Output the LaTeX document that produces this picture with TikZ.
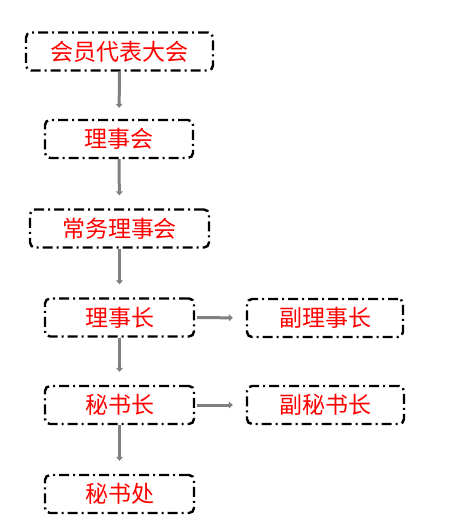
\documentclass[tikz,border=0pt]{standalone}
\usepackage{fontspec}
\newfontfamily\cjk{Noto Sans CJK SC}
\usetikzlibrary{arrows.meta}
\definecolor{arrowgray}{RGB}{128,128,128}
\tikzset{
  box/.style={draw=black, line width=2.4pt, rounded corners=5pt,
    dash pattern=on 10pt off 4pt on 2pt off 4pt,
    minimum height=38pt, inner sep=0pt, text=red,
    font=\cjk\fontsize{23}{23}\selectfont},
  arr/.style={draw=arrowgray, line width=3pt,
    -{Triangle[length=4pt,width=7pt]}}
}
\begin{document}
\begin{tikzpicture}[x=1pt,y=-1pt]
\useasboundingbox (0,0) rectangle (470,528);
\node[box, minimum width=187pt] (n1) at (119.5,51.5) {会员代表大会};
\node[box, minimum width=148pt] (n2) at (119,139) {理事会};
\node[box, minimum width=179pt] (n3) at (119.5,228.5) {常务理事会};
\node[box, minimum width=149pt] (n4) at (119.5,317.5) {理事长};
\node[box, minimum width=156pt] (n5) at (325,318) {副理事长};
\node[box, minimum width=149pt] (n6) at (119.5,405) {秘书长};
\node[box, minimum width=157pt] (n7) at (325.5,405) {副秘书长};
\node[box, minimum width=149pt] (n8) at (119.5,494) {秘书处};
\draw[arr, shorten >=11pt] (n1.south) -- (n2.north);
\draw[arr, shorten >=13pt] (n2.south) -- (n3.north);
\draw[arr, shorten >=13pt] (n3.south) -- (n4.north);
\draw[arr, shorten >=13pt] (n4.south) -- (n6.north);
\draw[arr, shorten >=13pt] (n6.south) -- (n8.north);
\draw[arr, shorten <=2pt, shorten >=13pt] (n4.east) -- (n5.west);
\draw[arr, shorten <=2pt, shorten >=13pt] (n6.east) -- (n7.west);
\end{tikzpicture}
\end{document}
